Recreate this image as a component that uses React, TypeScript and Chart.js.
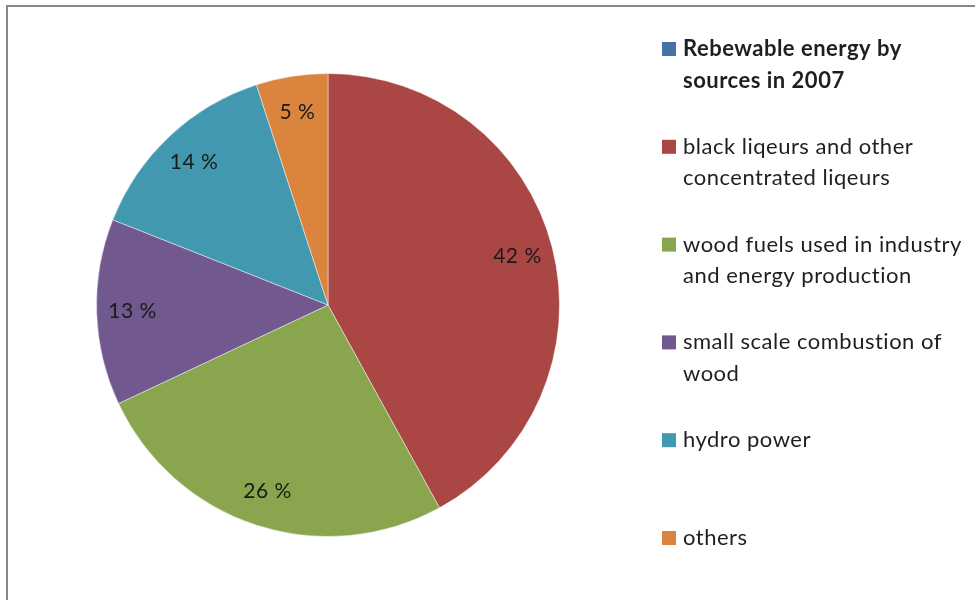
import React, { useEffect, useRef } from "react";
import { Chart, registerables } from "chart.js";

Chart.register(...registerables);

const categories: string[][] = [
  ["Rebewable energy by", "sources in 2007"],
  ["black liqeurs and other", "concentrated liqeurs"],
  ["wood fuels used in industry", "and energy production"],
  ["small scale combustion of", "wood"],
  ["hydro power"],
  ["others"],
];
const shares = [0, 42, 26, 13, 14, 5];
const colors = ["#4572A7", "#AA4643", "#89A54E", "#71588F", "#4198AF", "#DB843D"];

const FONT = "Lato, 'Open Sans', sans-serif";

const framePlugin = {
  id: "frame",
  beforeDraw(chart: any) {
    const ctx = chart.ctx;
    ctx.save();
    ctx.fillStyle = "#ffffff";
    ctx.fillRect(0, 0, chart.width, chart.height);
    ctx.strokeStyle = "#878787";
    ctx.lineWidth = 2;
    ctx.beginPath();
    ctx.moveTo(7, chart.height);
    ctx.lineTo(7, 6);
    ctx.lineTo(975, 6);
    ctx.stroke();
    ctx.restore();
  },
};

const labelPlugin = {
  id: "pctLabels",
  afterDatasetsDraw(chart: any) {
    const ctx = chart.ctx;
    const meta = chart.getDatasetMeta(0);
    const data = chart.data.datasets[0].data as number[];
    ctx.save();
    ctx.font = `21px ${FONT}`;
    (ctx as any).letterSpacing = "0.5px";
    ctx.fillStyle = "#1a1a1a";
    ctx.textAlign = "center";
    ctx.textBaseline = "middle";
    meta.data.forEach((arc: any, i: number) => {
      const v = data[i];
      if (!v) return;
      const p = arc.getProps(["startAngle", "endAngle", "outerRadius", "x", "y"], true);
      const mid = (p.startAngle + p.endAngle) / 2;
      const d = p.outerRadius * 0.845;
      ctx.fillText(`${v} %`, p.x + Math.cos(mid) * d, p.y + Math.sin(mid) * d);
    });
    ctx.restore();
  },
};

const legendPlugin = {
  id: "sideLegend",
  afterDraw(chart: any) {
    const ctx = chart.ctx;
    const labels = chart.data.labels as string[][];
    const bg = chart.data.datasets[0].backgroundColor as string[];
    ctx.save();
    ctx.textAlign = "left";
    ctx.textBaseline = "alphabetic";
    (ctx as any).letterSpacing = "0.5px";
    labels.forEach((lines, i) => {
      const base = 56 + i * 97.8;
      ctx.fillStyle = bg[i];
      ctx.fillRect(662, base - 14, 14, 14);
      ctx.fillStyle = "#1f1f1f";
      ctx.font = i === 0 ? `bold 22px ${FONT}` : `22px ${FONT}`;
      lines.forEach((line, j) => {
        ctx.fillText(line, 683, base + j * 31.5);
      });
    });
    ctx.restore();
  },
};

export default function App() {
  const ref = useRef<HTMLCanvasElement>(null);
  useEffect(() => {
    if (!ref.current) return;
    const chart = new Chart(ref.current, {
      type: "pie",
      data: {
        labels: categories,
        datasets: [
          {
            data: shares,
            backgroundColor: colors,
            borderColor: "rgba(255,255,255,0.45)",
            borderWidth: 1,
          },
        ],
      },
      options: {
        responsive: false,
        animation: false,
        rotation: 0,
        layout: { padding: { left: 96, right: 418, top: 73, bottom: 63 } },
        plugins: {
          legend: { display: false },
          tooltip: { enabled: false },
          title: { display: false },
        },
      },
      plugins: [framePlugin, labelPlugin, legendPlugin],
    });
    return () => chart.destroy();
  }, []);
  return (
    <div style={{ position: "absolute", left: 0, top: 0, width: 978, height: 600 }}>
      <canvas ref={ref} width={978} height={600} />
    </div>
  );
}
